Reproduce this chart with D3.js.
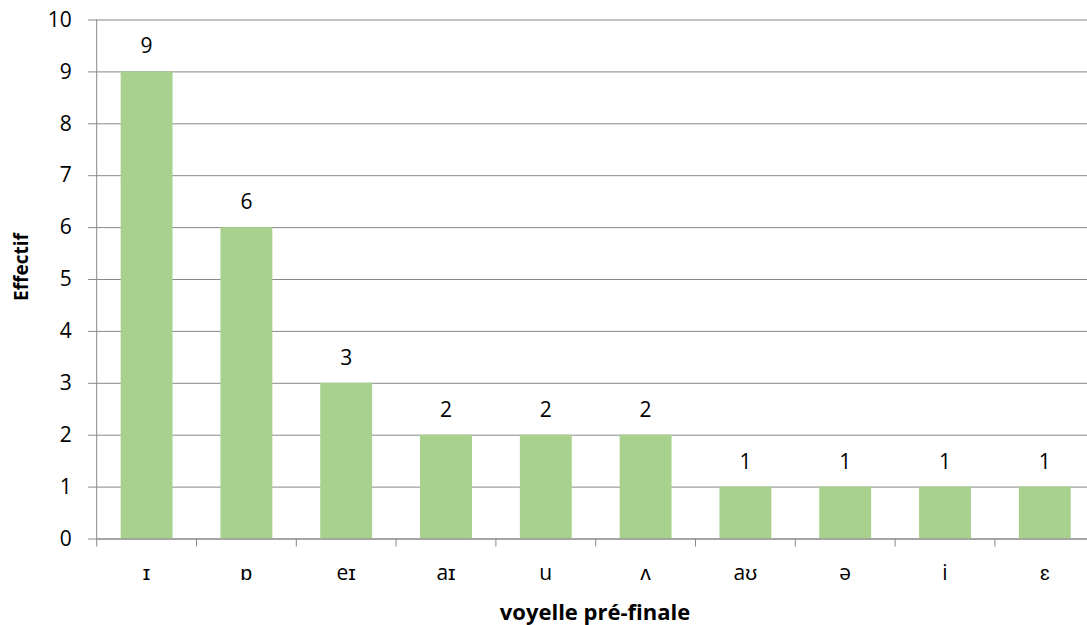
<!DOCTYPE html>
<html><head><meta charset="utf-8">
<script src="https://cdn.jsdelivr.net/npm/d3@7"></script>
<style>body{margin:0;background:#fff;} svg{display:block;}</style>
</head><body>
<svg id="c" width="1087" height="625"></svg>
<script>
const categories = ["ɪ","ɒ","eɪ","aɪ","u","ʌ","aʊ","ə","i","ɛ"];
const values = [9,6,3,2,2,2,1,1,1,1];
const yTicks = [0,1,2,3,4,5,6,7,8,9,10];
const xTitle = "voyelle pré-finale";
const yTitle = "Effectif";

const svg = d3.select("#c");
const L = 96.7, R = 1094.7, T = 19.5, B = 538.5;
const font = "'Open Sans', sans-serif";
const grid = "#888";
const fs = 21;

const x = d3.scaleBand().domain(categories).range([L, R]).paddingInner(0.48).paddingOuter(0.24);
const y = d3.scaleLinear().domain([0,10]).range([B, T]);

// gridlines
const yAxis = d3.axisLeft(y).tickValues(yTicks).tickSize(-(R - L)).tickSizeOuter(0).tickPadding(25);
const gy = svg.append("g").attr("transform", `translate(${L},0)`).call(yAxis);
gy.select(".domain").remove();
gy.selectAll(".tick line").attr("stroke", grid).attr("stroke-width", 1).attr("x1", -8.5);
gy.selectAll(".tick text").attr("font-family", font).attr("font-size", fs).attr("fill", "#000");

// vertical axis line
svg.append("line").attr("x1", L).attr("x2", L).attr("y1", T).attr("y2", B).attr("stroke", grid);

// bars
svg.append("g").selectAll("rect").data(values).join("rect")
  .attr("x", (d,i) => x(categories[i]))
  .attr("width", x.bandwidth())
  .attr("y", d => y(d))
  .attr("height", d => y(0) - y(d))
  .attr("fill", "#A9D18E");

// data labels
svg.append("g").selectAll("text").data(values).join("text")
  .attr("x", (d,i) => x(categories[i]) + x.bandwidth()/2)
  .attr("y", d => y(d) - 26)
  .attr("text-anchor", "middle")
  .attr("dominant-baseline", "central")
  .attr("font-family", font).attr("font-size", fs).attr("fill", "#000")
  .text(d => d);

// x axis
const xb = d3.scaleBand().domain(categories).range([L, R]);
const xAxis = d3.axisBottom(xb).tickSize(0).tickPadding(27);
const gx = svg.append("g").attr("transform", `translate(0,${B})`).call(xAxis);
gx.select(".domain").attr("stroke", grid).attr("d", `M${L},0.5H${R}`);
gx.selectAll(".tick text").attr("font-family", font).attr("font-size", fs).attr("fill", "#000");
// category boundary ticks
svg.append("g").selectAll("line").data(d3.range(categories.length + 1)).join("line")
  .attr("x1", i => L + i * xb.step()).attr("x2", i => L + i * xb.step())
  .attr("y1", B).attr("y2", B + 8).attr("stroke", grid);

// axis titles
svg.append("text").attr("x", 595).attr("y", 611)
  .attr("text-anchor", "middle").attr("dominant-baseline", "central")
  .attr("font-family", font).attr("font-size", 22).attr("font-weight", "bold").text(xTitle);
svg.append("text").attr("transform", "translate(21,267) rotate(-90)")
  .attr("text-anchor", "middle").attr("dominant-baseline", "central")
  .attr("font-family", font).attr("font-size", 19).attr("font-weight", "bold").text(yTitle);
</script>
</body></html>
